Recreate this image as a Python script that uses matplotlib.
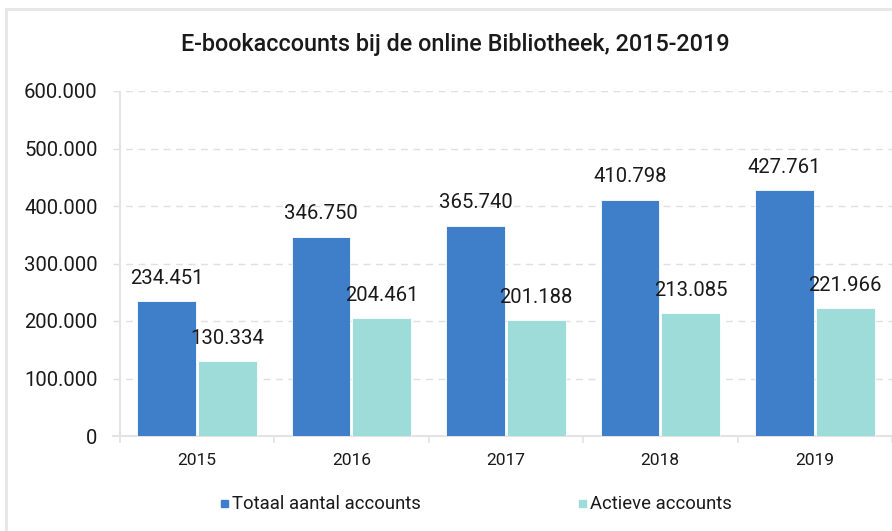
import numpy as np
import matplotlib
matplotlib.use("Agg")
from matplotlib import pyplot as plt
from matplotlib.lines import Line2D
from matplotlib.patches import Rectangle

years = ["2015", "2016", "2017", "2018", "2019"]
totaal = [234451, 346750, 365740, 410798, 427761]
actief = [130334, 204461, 201188, 213085, 221966]
series_names = ["Totaal aantal accounts", "Actieve accounts"]

blue = "#3F7FCA"
teal = "#9EDCDA"
text_c = "#1a1a1a"

plt.rcParams["font.family"] = ["Roboto", "DejaVu Sans"]

W, H = 892, 531
fig = plt.figure(figsize=(W / 100, H / 100), dpi=100)

# axes box in pixels: left 113, right past the image edge, y from 91 to 436
ax = fig.add_axes([113 / W, 1 - 436 / H, (W - 113) / W, (436 - 91) / H])

def fmt(v):
    return "{:,}".format(int(v)).replace(",", ".")

x = np.arange(len(years))
bw = 0.38
off = 0.197
b1 = ax.bar(x - off, totaal, bw, color=blue, edgecolor="white", linewidth=0.6, zorder=3)
b2 = ax.bar(x + off, actief, bw, color=teal, edgecolor="white", linewidth=0.6, zorder=3)

for bars, vals in ((b1, totaal), (b2, actief)):
    for r, v in zip(bars, vals):
        ax.annotate(fmt(v), (r.get_x() + r.get_width() / 2, v), xytext=(0, 16.5),
                    textcoords="offset points", ha="center", va="center",
                    fontsize=14.6, color=text_c)

ax.set_xlim(-0.543, 4.434)
ax.set_ylim(0, 600000)
yt = np.arange(0, 600001, 100000)
ax.set_yticks(yt)
ax.set_yticklabels([fmt(v) for v in yt], fontsize=14.6, color=text_c)
ax.tick_params(axis="y", length=0, pad=11)

ax.set_xticks(x)
ax.set_xticklabels(years, fontsize=12.5, color=text_c)
ax.tick_params(axis="x", length=0, pad=12)
ax.set_xticks(np.arange(-0.5, 5, 1), minor=True)
ax.tick_params(axis="x", which="minor", length=5, color="#e3e3e3", width=1.2)

for s in ax.spines.values():
    s.set_visible(False)
ax.spines["bottom"].set_visible(True)
ax.spines["bottom"].set_color("#e3e3e3")
ax.spines["bottom"].set_linewidth(1.5)
ax.axvline(-0.5, color="#e3e3e3", lw=1.5, zorder=1)
ax.grid(axis="y", color="#e0e0e0", linestyle=(0, (5, 4)), linewidth=1, zorder=0)
ax.set_axisbelow(True)

fig.text(455 / W, 1 - 45 / H, "E-bookaccounts bij de online Bibliotheek, 2015-2019",
         ha="center", va="center", fontsize=16.8, color=text_c, fontweight="medium")

# legend
handles = [Rectangle((0, 0), 1, 1, color=blue), Rectangle((0, 0), 1, 1, color=teal)]
for h, name, px in zip(handles, series_names, (221, 579)):
    fig.patches.append(Rectangle((px / W, 1 - 507 / H), 7 / W, 7 / H,
                                 transform=fig.transFigure, color=h.get_facecolor()))
    fig.text((px + 11) / W, 1 - 504 / H, name, ha="left", va="center",
             fontsize=13.3, color=text_c)

# outer frame (left and top edges visible)
fig.add_artist(Line2D([6 / W, 6 / W], [0, 1 - 9 / H], color="#e6e6e6", lw=2,
                      transform=fig.transFigure))
fig.add_artist(Line2D([6 / W, 1], [1 - 9 / H, 1 - 9 / H], color="#e6e6e6", lw=2,
                      transform=fig.transFigure))

fig.savefig("out.png", dpi=100)
